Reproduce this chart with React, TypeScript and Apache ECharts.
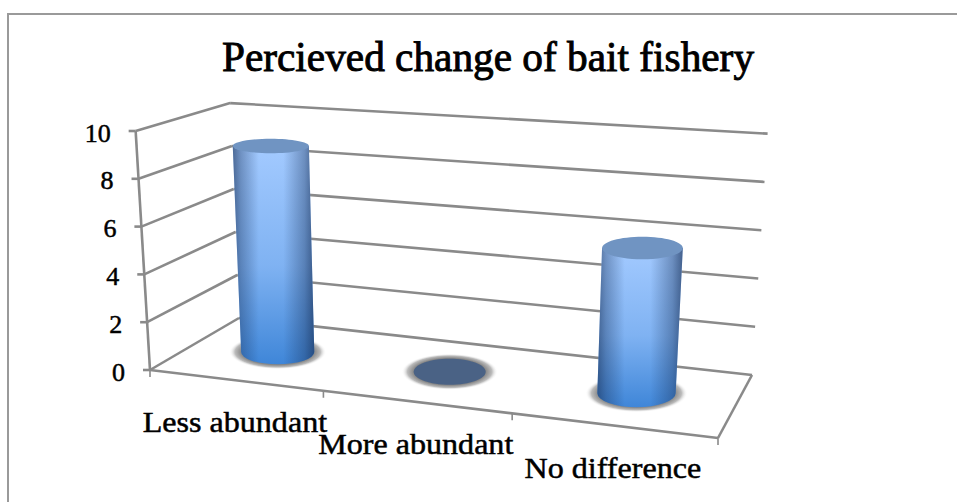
import React, { useEffect, useRef } from "react";
import * as echarts from "echarts";

const titleText = "Percieved change of bait fishery";
const categories = ["Less abundant", "More abundant", "No difference"];
const responses = [9, 0, 6];
const valueTicks = [0, 2, 4, 6, 8, 10];

const SERIF = '"Liberation Serif", serif';
const LINE = "#8a8a8a";

type Pt = [number, number];

// Builds the projective map from the unit square (u along the categories,
// d into the depth of the plot) onto a screen quadrilateral; the third
// returned number is the homogeneous divisor, which gives the local scale.
function planeMap(p0: Pt, p1: Pt, p2: Pt, p3: Pt) {
  const dx1 = p1[0] - p2[0];
  const dx2 = p3[0] - p2[0];
  const sx = p0[0] - p1[0] + p2[0] - p3[0];
  const dy1 = p1[1] - p2[1];
  const dy2 = p3[1] - p2[1];
  const sy = p0[1] - p1[1] + p2[1] - p3[1];
  const den = dx1 * dy2 - dx2 * dy1;
  const g = (sx * dy2 - dx2 * sy) / den;
  const h = (dx1 * sy - sx * dy1) / den;
  const a = p1[0] - p0[0] + g * p1[0];
  const b = p3[0] - p0[0] + h * p3[0];
  const d0 = p1[1] - p0[1] + g * p1[1];
  const e = p3[1] - p0[1] + h * p3[1];
  return (u: number, d: number): [number, number, number] => {
    const w = g * u + h * d + 1;
    return [(a * u + b * d + p0[0]) / w, (d0 * u + e * d + p0[1]) / w, w];
  };
}

// Floor of the plot box, as front-left, front-right, back-right, back-left.
const floorPlane = planeMap([150, 370], [718, 438], [752, 375], [239, 318]);
// Height of the front-left edge, and the point the verticals converge on.
const FRONT_HEIGHT = 239;
const VANISH: Pt = [440, 5200];

// u and d in 0..1, level in 0..1 from floor to ceiling.
function project(u: number, d: number, level: number): Pt {
  const bent = u - 0.0525 * u * (1 - u);
  const [x, y, w] = floorPlane(bent, d);
  const lift = bent * d;
  const height = ((FRONT_HEIGHT / w) * (1 + 0.049 * lift * lift)) * level;
  return [x + ((x - VANISH[0]) * height) / (VANISH[1] - y), y - height];
}

const line = (a: Pt, b: Pt, width = 2.6, stroke = LINE) => ({
  type: "line",
  shape: { x1: a[0], y1: a[1], x2: b[0], y2: b[1] },
  style: { stroke, lineWidth: width, fill: "none" },
  silent: true,
});

const label = (
  x: number,
  y: number,
  text: string,
  size: number,
  align: string,
  stretch = 1
) => ({
  type: "text",
  x,
  y,
  scaleX: stretch,
  style: {
    x: 0,
    y: 0,
    text,
    fill: "#000",
    stroke: "#000",
    lineWidth: 0.5,
    font: `${size}px ${SERIF}`,
    textAlign: align,
    textVerticalAlign: "middle",
  },
  silent: true,
});

// Reads the chart's scales and turns a data pair into plot-box fractions.
function fractions(params: any, api: any) {
  const rect = params.coordSys;
  const px = api.coord([api.value(0), api.value(1)]);
  return {
    u: (px[0] - rect.x) / rect.width,
    level: (rect.y + rect.height - px[1]) / rect.height,
  };
}

// Side wall and back wall: one bracket of lines per value tick.
function renderWalls(params: any, api: any) {
  const { level } = fractions(params, api);
  const frontLeft = project(0, 0, level);
  const backLeft = project(0, 1, level);
  const backRight = project(1, 1, level);
  const children: any[] = [
    line(frontLeft, backLeft),
    line(backLeft, backRight),
    line([frontLeft[0] - 7, frontLeft[1]], frontLeft),
    label(frontLeft[0] - 25, frontLeft[1] + 2, String(api.value(1)), 26, "right"),
  ];
  if (params.dataIndex === 0) {
    children.push(line(project(0, 0, 0), project(0, 0, 1)));
    children.push(line(project(0, 0, 0), project(1, 0, 0)));
    children.push(line(project(1, 0, 0), project(1, 1, 0)));
  }
  return { type: "group", children };
}

// Category ticks on the front floor edge with their names underneath.
function renderCategoryAxis(params: any, api: any) {
  const { u } = fractions(params, api);
  const band = 1 / categories.length;
  const tickAt = (t: number) => {
    const p = project(t, 0, 0);
    return line(p, [p[0], p[1] + 7], 1.6);
  };
  const centre = project(u, 0, 0);
  const children: any[] = [
    tickAt(u - band / 2),
    label(centre[0], centre[1] + 42, categories[params.dataIndex], 30, "center", 1.07),
  ];
  if (params.dataIndex === categories.length - 1) children.push(tickAt(1));
  return { type: "group", children };
}

const DEPTH_MID = 0.5;
const RADIUS_D = 0.23;

function ellipseAt(u: number, level: number) {
  const radiusU = Math.max(0.067, 0.0805 - 0.04 * u);
  const c = project(u, DEPTH_MID, level);
  const l = project(u - radiusU, DEPTH_MID, level);
  const r = project(u + radiusU, DEPTH_MID, level);
  const f = project(u, DEPTH_MID - RADIUS_D, level);
  const b = project(u, DEPTH_MID + RADIUS_D, level);
  return { cx: c[0], cy: c[1], rx: Math.abs(r[0] - l[0]) / 2, ry: Math.abs(f[1] - b[1]) / 2 };
}

// Each response count as a cylinder standing on the floor.
function renderCylinder(params: any, api: any) {
  const { u, level } = fractions(params, api);
  const base = ellipseAt(u, 0);
  const top = ellipseAt(u, level);
  const shade = new echarts.graphic.RadialGradient(0.5, 0.5, 0.5, [
    { offset: 0, color: "#7a7a7a" },
    { offset: 0.74, color: "#858585" },
    { offset: 0.88, color: "#bcbcbc" },
    { offset: 1, color: "rgba(255,255,255,0)" },
  ]);
  const children: any[] = [
    {
      type: "ellipse",
      shape: { cx: base.cx, cy: base.cy, rx: base.rx + 12, ry: base.ry + 5 },
      style: { fill: shade },
      silent: true,
    },
  ];
  if (level > 0.001) {
    const d =
      `M${top.cx - top.rx} ${top.cy} L${base.cx - base.rx} ${base.cy} ` +
      `A${base.rx} ${base.ry} 0 0 0 ${base.cx + base.rx} ${base.cy} ` +
      `L${top.cx + top.rx} ${top.cy} Z`;
    const body = new echarts.graphic.LinearGradient(0, 0, 0, 1, [
      { offset: 0, color: "#a3caff" },
      { offset: 0.55, color: "#7fb2f2" },
      { offset: 1, color: "#3f86d8" },
    ]);
    const sides = new echarts.graphic.LinearGradient(0, 0, 1, 0, [
      { offset: 0, color: "rgba(24,48,88,0.62)" },
      { offset: 0.1, color: "rgba(24,48,88,0.36)" },
      { offset: 0.32, color: "rgba(24,48,88,0)" },
      { offset: 0.62, color: "rgba(24,48,88,0)" },
      { offset: 0.88, color: "rgba(24,48,88,0.38)" },
      { offset: 1, color: "rgba(24,48,88,0.68)" },
    ]);
    children.push(
      { type: "path", shape: { pathData: d }, style: { fill: body }, silent: true },
      { type: "path", shape: { pathData: d }, style: { fill: sides }, silent: true },
      {
        type: "ellipse",
        shape: { cx: top.cx, cy: top.cy, rx: top.rx, ry: top.ry },
        style: { fill: "#7094c2" },
        silent: true,
      }
    );
  } else {
    children.push({
      type: "ellipse",
      shape: { cx: base.cx, cy: base.cy, rx: base.rx, ry: base.ry },
      style: { fill: "#4a6285" },
      silent: true,
    });
  }
  return { type: "group", children };
}

export default function App() {
  const ref = useRef<HTMLDivElement>(null);
  useEffect(() => {
    const chart = echarts.init(ref.current!, undefined, { renderer: "svg" });
    chart.setOption({
      animation: false,
      backgroundColor: "#fff",
      title: {
        text: titleText,
        left: 483,
        top: 31,
        textAlign: "center",
        textStyle: {
          fontFamily: SERIF,
          fontSize: 41.3,
          fontWeight: "normal",
          color: "#000",
          textBorderColor: "#000",
          textBorderWidth: 0.9,
        },
      },
      graphic: [
        {
          type: "polyline",
          shape: { points: [[8, 502], [8, 14], [957, 14]] },
          style: { stroke: "#9a9a9a", lineWidth: 2, fill: "none" },
          silent: true,
        },
      ],
      // The grid only supplies the scales; marks are projected from its fractions.
      grid: { left: 0, top: 0, width: 300, height: 300 },
      xAxis: { type: "category", data: categories, show: false },
      yAxis: { type: "value", min: 0, max: 10, interval: 2, show: false },
      series: [
        {
          type: "custom",
          renderItem: renderWalls,
          data: valueTicks.map((t) => [0, t]),
          silent: true,
          z: 1,
        },
        {
          type: "custom",
          renderItem: renderCategoryAxis,
          data: categories.map((_, i) => [i, 0]),
          silent: true,
          z: 1,
        },
        {
          type: "custom",
          renderItem: renderCylinder,
          data: responses.map((v, i) => [i, v]),
          silent: true,
          z: 2,
        },
      ],
    });
    return () => chart.dispose();
  }, []);
  return (
    <div
      ref={ref}
      style={{ position: "absolute", left: 0, top: 0, width: 957, height: 502 }}
    />
  );
}
